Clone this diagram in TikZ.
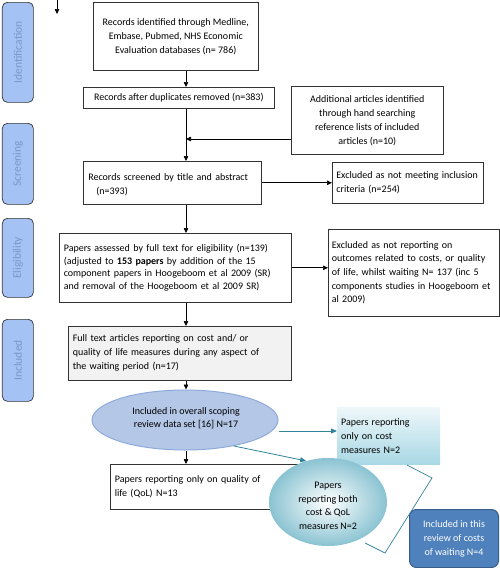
\documentclass[tikz,border=0pt]{standalone}
\usepackage{fontspec}
\setmainfont{Carlito}
\usetikzlibrary{arrows.meta,shapes.geometric,calc}
\definecolor{sidefill}{HTML}{A4C2F4}
\definecolor{sidetext}{HTML}{7B97C9}
\definecolor{ellfill}{HTML}{B4C7E7}
\definecolor{elldraw}{HTML}{8EAADB}
\definecolor{teal}{HTML}{31849B}
\definecolor{tealtop}{HTML}{EEF7FA}
\definecolor{tealbot}{HTML}{A8D8E4}
\definecolor{blueb}{HTML}{4F81BD}
\definecolor{bluebd}{HTML}{385D8A}
\definecolor{graybox}{HTML}{F2F2F2}
\begin{document}
\begin{tikzpicture}[x=1pt,y=-1pt,
  every node/.style={font=\fontsize{10}{14}\selectfont, inner sep=0pt},
  box/.style={draw=black!80, line width=0.6pt, fill=white, anchor=north west},
  side/.style={draw=black!80, line width=0.7pt, fill=sidefill, rounded corners=5pt, anchor=north west, minimum width=31pt},
  sidelab/.style={text=sidetext, rotate=90, font=\fontsize{11.5}{13}\selectfont},
  arr/.style={-{Triangle[length=5pt,width=4.5pt]}, line width=0.7pt, black},
  tarr/.style={-{Triangle[length=6pt,width=5pt]}, line width=0.8pt, teal},
]
\useasboundingbox (0,0) rectangle (500,568);
% side labels
\node[side, minimum height=100pt] (s1) at (2,2) {};
\node[sidelab] at (s1.center) {Identification};
\node[side, minimum height=81pt] (s2) at (2,123) {};
\node[sidelab] at (s2.center) {Screening};
\node[side, minimum height=79pt] (s3) at (2,218) {};
\node[sidelab] at (s3.center) {Eligibility};
\node[side, minimum height=82pt] (s4) at (2,319) {};
\node[sidelab] at (s4.center) {Included};
% top arrow
\coordinate (t0) at (57,0);
\coordinate (t1) at (57,14);
\draw[arr] (t0) -- (t1);
\coordinate (col) at (186,0);
% boxes
\node[box, minimum width=165pt, minimum height=68pt, align=center] (b1) at (93,2)
  {Records identified through Medline,\\Embase, Pubmed, NHS Economic\\Evaluation databases (n= 786)};
\node[box, minimum width=191pt, minimum height=21pt, align=center] (b2) at (83,87)
  {Records after duplicates removed (n=383)};
\node[box, minimum width=152pt, minimum height=68pt, align=center] (b3) at (291,86)
  {Additional articles identified\\through hand searching\\reference lists of included\\articles (n=10)};
\node[box, minimum width=178pt, minimum height=43pt, text width=168pt, align=left] (b4) at (83,161)
  {\strut Records screened by title and abstract\\\hspace*{8pt}(n=393)};
\node[box, minimum width=151pt, minimum height=41pt, text width=143pt, align=left] (b5) at (332,162)
  {Excluded as not meeting inclusion\\criteria (n=254)};
\node[box, minimum width=232pt, minimum height=69pt, text width=223pt, align=left, font=\fontsize{10}{12.5}\selectfont] (b6) at (59,233)
  {Papers assessed by full text for eligibility (n=139)\\(adjusted to \textbf{153 papers} by addition of the 15\\component papers in Hoogeboom et al 2009 (SR)\\and removal of the Hoogeboom et al 2009 SR)};
\node[box, minimum width=171pt, minimum height=87pt, text width=164pt, align=left, font=\fontsize{10}{13.7}\selectfont] (b7) at (328,229)
  {Excluded as not reporting on\\outcomes related to costs, or quality\\of life, whilst waiting N= 137 (inc 5\\components studies in Hoogeboom et\\al 2009)};
\node[box, fill=graybox, minimum width=223pt, minimum height=54pt, text width=214pt, align=left] (b8) at (68,326)
  {Full text articles reporting on cost and/ or\\quality of life measures during any aspect of\\the waiting period (n=17)};
\node[ellipse, draw=elldraw, line width=1pt, fill=ellfill, minimum width=186pt, minimum height=60pt] (el) at (185,420) {};
\node[align=center, font=\fontsize{10}{13}\selectfont] (elt) at (186,418) {Included in overall scoping\\review data set [16] N=17};
\node[box, minimum width=208pt, minimum height=45pt, text width=199pt, align=left] (b9) at (110,464)
  {Papers reporting only on quality of\\life (QoL) N=13};
\node[anchor=north west, top color=tealtop, bottom color=tealbot, minimum width=103pt, minimum height=57pt, text width=95pt, align=left] (cb) at (337,407)
  {Papers reporting\\only on cost\\measures N=2};
\node[ellipse, inner color=white, outer color=tealbot!75!teal, minimum width=118pt, minimum height=88pt] (ci) at (328,502) {};
\node[align=center, font=\fontsize{10}{13.5}\selectfont] (cit) at (328,506) {Papers\\reporting both\\cost \& QoL\\measures N=2};
\node[anchor=north west, draw=bluebd, line width=1pt, fill=blueb, rounded corners=7pt, minimum width=89pt, minimum height=58pt, text=white, align=center] (bb) at (409,509)
  {Included in this\\review of costs\\of waiting N=4};
% connectors
\draw[arr] (b1.south -| col) -- (b2.north -| col);
\draw[arr] (b2.south -| col) -- (b4.north -| col);
\coordinate (b3w) at (291,139);
\coordinate (j) at (col |- b3w);
\draw[arr] (b3w) -- (j);
\draw[arr] (b4.east) -- (b5.west |- b4.east);
\draw[arr] (b4.south -| col) -- (b6.north -| col);
\draw[arr] (b6.east) -- (b7.west |- b6.east);
\draw[arr] (b6.south -| col) -- (b8.north -| col);
\draw[arr] (b8.south -| col) -- (el.north -| col);
\draw[arr] (el.south -| col) -- (b9.north -| col);
\draw[tarr] (el.east |- 0,431) -- (cb.west |- 0,431);
\draw[tarr] (el.-28) -- (ci.118);
\coordinate (k1) at (407,465);
\coordinate (k2) at (432,478);
\coordinate (k3) at (385,553);
\coordinate (k4) at (365,543);
\draw[teal, line width=0.7pt] (k1) -- (k2) -- (k3) -- (k4);
\end{tikzpicture}
\end{document}
